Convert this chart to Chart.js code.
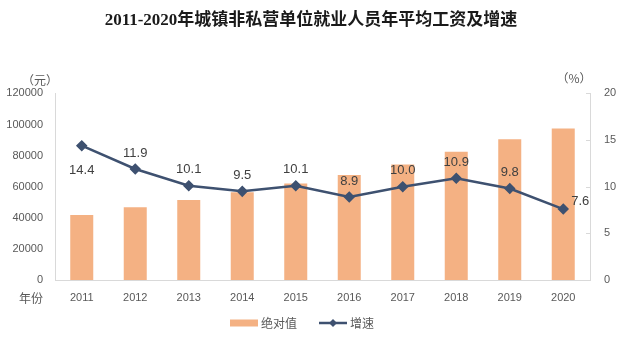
<!DOCTYPE html>
<html>
<head>
<meta charset="utf-8">
<title>城镇非私营单位就业人员年平均工资</title>
<script src="https://cdn.jsdelivr.net/npm/chart.js@4.4.0/dist/chart.umd.min.js"></script>
<style>
  html, body { margin: 0; padding: 0; background: #fff; }
  #wrap { width: 640px; height: 347px; }
</style>
</head>
<body>
<div id="wrap"><canvas id="chart" width="640" height="347"></canvas></div>
<script>
// 年份与两组数据
var years = ['2011', '2012', '2013', '2014', '2015', '2016', '2017', '2018', '2019', '2020'];
var wages = [41799, 46769, 51483, 56360, 62029, 67569, 74318, 82413, 90501, 97379];
var growth = [14.4, 11.9, 10.1, 9.5, 10.1, 8.9, 10.0, 10.9, 9.8, 7.6];
var wageTicks = [0, 20000, 40000, 60000, 80000, 100000, 120000];
var rateTicks = [0, 5, 10, 15, 20];

var BAR_COLOR = '#F4B183';
var LINE_COLOR = '#3E5170';
var AXIS_COLOR = '#D9D9D9';
var TEXT_COLOR = '#595959';
var TICK_FONT = { family: '"Liberation Sans", Arial, sans-serif', size: 11 };

// 增速数值标签：首点在下，末点在右，其余在上
var valueLabels = {
  id: 'valueLabels',
  afterDatasetsDraw: function (chart) {
    var ctx = chart.ctx;
    var meta = chart.getDatasetMeta(1);
    ctx.save();
    ctx.font = '13px "Liberation Sans", Arial, sans-serif';
    ctx.fillStyle = '#404040';
    ctx.textBaseline = 'middle';
    meta.data.forEach(function (pt, i) {
      var txt = growth[i].toFixed(1);
      var x = pt.x, y = pt.y - 16;
      ctx.textAlign = 'center';
      if (i === 0) y = pt.y + 25;
      if (i === growth.length - 1) { x = pt.x + 8; y = pt.y - 8; ctx.textAlign = 'left'; }
      ctx.fillText(txt, x, y);
    });
    ctx.restore();
  }
};

// 单位、年份说明、右轴内刻度与图例
var extras = {
  id: 'extras',
  afterDraw: function (chart) {
    var ctx = chart.ctx;
    var area = chart.chartArea;
    var y1 = chart.scales.y1;
    ctx.save();

    ctx.strokeStyle = AXIS_COLOR;
    ctx.lineWidth = 1;
    rateTicks.forEach(function (v) {
      if (v === 0) return;
      var py = Math.round(y1.getPixelForValue(v)) + 0.5;
      ctx.beginPath();
      ctx.moveTo(area.right - 4, py);
      ctx.lineTo(area.right, py);
      ctx.stroke();
    });

    ctx.fillStyle = TEXT_COLOR;
    ctx.textBaseline = 'middle';
    ctx.font = '12px "Noto Sans CJK SC", sans-serif';
    ctx.textAlign = 'center';
    ctx.fillText('（元）', 40, 80);
    ctx.fillText('（%）', 574, 78);
    ctx.textAlign = 'right';
    ctx.fillText('年份', 43, 298);

    // 图例
    var ly = 323;
    ctx.font = '12px "Noto Sans CJK SC", sans-serif';
    var items = [
      { text: chart.data.datasets[0].label, type: 'bar' },
      { text: chart.data.datasets[1].label, type: 'line' }
    ];
    var symW = 28, gap = 3, between = 22;
    var total = 0;
    items.forEach(function (it, i) {
      it.w = ctx.measureText(it.text).width;
      total += symW + gap + it.w + (i ? between : 0);
    });
    var x = 302 - total / 2;
    items.forEach(function (it, i) {
      if (i) x += between;
      if (it.type === 'bar') {
        ctx.fillStyle = BAR_COLOR;
        ctx.fillRect(x, ly - 3.5, symW, 7);
      } else {
        ctx.strokeStyle = LINE_COLOR;
        ctx.lineWidth = 2.5;
        ctx.beginPath();
        ctx.moveTo(x, ly);
        ctx.lineTo(x + symW, ly);
        ctx.stroke();
        ctx.fillStyle = LINE_COLOR;
        ctx.beginPath();
        var cx = x + symW / 2;
        ctx.moveTo(cx, ly - 4);
        ctx.lineTo(cx + 4, ly);
        ctx.lineTo(cx, ly + 4);
        ctx.lineTo(cx - 4, ly);
        ctx.closePath();
        ctx.fill();
      }
      x += symW + gap;
      ctx.fillStyle = TEXT_COLOR;
      ctx.textAlign = 'left';
      ctx.fillText(it.text, x, ly);
      x += it.w;
    });
    ctx.restore();
  }
};

new Chart(document.getElementById('chart'), {
  data: {
    labels: years,
    datasets: [
      {
        type: 'bar',
        label: '绝对值',
        data: wages,
        yAxisID: 'y',
        backgroundColor: BAR_COLOR,
        barPercentage: 0.43,
        categoryPercentage: 1,
        order: 2
      },
      {
        type: 'line',
        label: '增速',
        data: growth,
        yAxisID: 'y1',
        borderColor: LINE_COLOR,
        backgroundColor: LINE_COLOR,
        borderWidth: 2.5,
        pointStyle: 'rectRot',
        pointRadius: 4,
        tension: 0,
        order: 1
      }
    ]
  },
  options: {
    responsive: false,
    animation: false,
    layout: { padding: { top: 0, right: 18, bottom: 37, left: 0 } },
    plugins: {
      legend: { display: false },
      tooltip: { enabled: false },
      title: {
        display: true,
        text: '2011-2020年城镇非私营单位就业人员年平均工资及增速',
        color: '#1a1a1a',
        font: { family: '"Liberation Serif", "Noto Sans CJK SC", serif', size: 17, weight: 'bold' },
        padding: { top: 10, bottom: 63 }
      }
    },
    scales: {
      x: {
        grid: { display: false, drawTicks: false },
        border: { color: AXIS_COLOR },
        ticks: { color: TEXT_COLOR, font: TICK_FONT, padding: 11 },
        afterFit: function (s) { s.height = 30; }
      },
      y: {
        position: 'left',
        min: 0,
        max: 120000,
        afterBuildTicks: function (s) { s.ticks = wageTicks.map(function (v) { return { value: v }; }); },
        grid: { display: false, drawTicks: false },
        border: { color: AXIS_COLOR },
        ticks: { color: TEXT_COLOR, font: TICK_FONT, padding: 12, callback: function (v) { return String(v); } },
        afterFit: function (s) { s.width = 55; }
      },
      y1: {
        position: 'right',
        min: 0,
        max: 20,
        afterBuildTicks: function (s) { s.ticks = rateTicks.map(function (v) { return { value: v }; }); },
        grid: { display: false, drawTicks: false },
        border: { color: AXIS_COLOR },
        ticks: { color: TEXT_COLOR, font: TICK_FONT, padding: 14, callback: function (v) { return String(v); } },
        afterFit: function (s) { s.width = 32; }
      }
    }
  },
  plugins: [valueLabels, extras]
});
</script>
</body>
</html>
